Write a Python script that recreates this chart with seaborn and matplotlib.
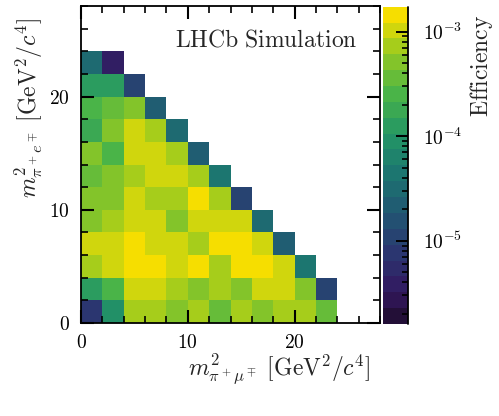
import numpy as np
import pandas as pd
import matplotlib
matplotlib.use("Agg")
import matplotlib.pyplot as plt
import seaborn as sns
from matplotlib.colors import LinearSegmentedColormap, ListedColormap, LogNorm
from matplotlib.ticker import MultipleLocator, FuncFormatter, NullFormatter, LogLocator

sns.set_style("white")
plt.rcParams["mathtext.fontset"] = "cm"
plt.rcParams["font.family"] = ["DejaVu Serif"]
plt.rcParams["axes.axisbelow"] = False

# ---- data: efficiency per 2x2 GeV^2 bin, in units of 1e-4 (rows from bottom) ----
bin_width = 2.0
n_bins = 14
eff_row00 = [0.077, 0.89, 7.2, 7.2, 5.1, 7.2, 3.6, 7.2, 5.1, 7.2, 7.2, 3.6]
eff_row01 = [1.26, 2.5, 10.2, 10.2, 7.2, 5.1, 7.2, 5.1, 10.2, 10.2, 5.1, 0.11]
eff_row02 = [7.2, 10.2, 14.5, 14.5, 10.2, 14.5, 7.2, 14.5, 14.5, 10.2, 0.44]
eff_row03 = [10.2, 10.2, 14.5, 10.2, 10.2, 7.2, 14.5, 14.5, 10.2, 0.22]
eff_row04 = [5.1, 7.2, 10.2, 10.2, 5.1, 10.2, 10.2, 10.2, 0.31]
eff_row05 = [5.1, 5.1, 10.2, 7.2, 7.2, 14.5, 7.2, 0.11]
eff_row06 = [3.6, 5.1, 7.2, 10.2, 10.2, 7.2, 0.44]
eff_row07 = [5.1, 2.5, 10.2, 10.2, 7.2, 0.22]
eff_row08 = [1.8, 5.1, 10.2, 7.2, 0.31]
eff_row09 = [2.5, 3.6, 5.1, 0.22]
eff_row10 = [1.26, 1.26, 0.11]
eff_row11 = [0.31, 0.038]
eff_scale = 1e-4
z_min = 1.6e-6
z_max = 1.73e-3
n_contours = 20
x_tick_values = [0, 10, 20]
cbar_tick_values = [1e-5, 1e-4, 1e-3]

rows = [eff_row00, eff_row01, eff_row02, eff_row03, eff_row04, eff_row05,
        eff_row06, eff_row07, eff_row08, eff_row09, eff_row10, eff_row11]
grid = np.full((n_bins, n_bins), np.nan)
for r, vals in enumerate(rows):
    grid[r, :len(vals)] = np.array(vals) * eff_scale
df = pd.DataFrame(grid)

# ROOT kViridis palette, discretised into 20 contour levels
stops = [0.0, 0.125, 0.25, 0.375, 0.5, 0.625, 0.75, 0.875, 1.0]
red = [26, 51, 43, 33, 28, 35, 74, 144, 246]
green = [9, 24, 55, 87, 118, 150, 180, 200, 222]
blue = [30, 96, 112, 114, 112, 101, 72, 35, 0]
base = LinearSegmentedColormap.from_list(
    "kViridis", [(s, (r / 255, g / 255, b / 255)) for s, r, g, b in zip(stops, red, green, blue)])
cmap = ListedColormap([base(min((i + 0.99) / n_contours, 1.0)) for i in range(n_contours)])
cmap.set_bad("white")
norm = LogNorm(vmin=z_min, vmax=z_max)

W, H = 499, 416
fig = plt.figure(figsize=(W / 100, H / 100), dpi=100)
ax = fig.add_axes([81 / W, 1 - 323 / H, (380 - 81) / W, (323 - 6) / H])
cax = fig.add_axes([382.5 / W, 1 - 324 / H, 25 / W, (324 - 6.7) / H])

sns.heatmap(df, ax=ax, cmap=cmap, norm=norm, cbar=True, cbar_ax=cax,
            xticklabels=False, yticklabels=False)
ax.set_axisbelow(False)
cax.set_axisbelow(False)

ax.set_xlim(0, n_bins)
ax.set_ylim(0, n_bins)
for s in ax.spines.values():
    s.set_visible(True)
    s.set_linewidth(1.3)
    s.set_color("black")
    s.set_zorder(5)

fmt = FuncFormatter(lambda v, p: r"$%d$" % int(round(v * bin_width)))
for axis in (ax.xaxis, ax.yaxis):
    axis.set_major_locator(MultipleLocator(x_tick_values[1] / bin_width))
    axis.set_minor_locator(MultipleLocator(1))
    axis.set_major_formatter(fmt)
    axis.set_zorder(4)
ax.tick_params(which="both", direction="in", top=True, right=True,
               bottom=True, left=True, labelsize=14, pad=8, colors="black")
ax.tick_params(which="major", length=9.5, width=1.5)
ax.tick_params(which="minor", length=4.7, width=1.2)

ax.set_xlabel(r"$m^2_{\pi^+\mu^\mp}\ [\mathrm{GeV}^2/c^4]$", fontsize=17, loc="right")
ax.xaxis.set_label_coords(0.967, -0.092)
ax.set_ylabel(r"$m^2_{\pi^+e^\mp}\ [\mathrm{GeV}^2/c^4]$", fontsize=17, loc="top")
ax.yaxis.set_label_coords(-0.12, 0.962)

ax.text(0.923, 0.871, r"$\mathrm{LHCb\ Simulation}$", transform=ax.transAxes,
        ha="right", va="baseline", fontsize=17)

# colorbar styling
cbar = ax.collections[0].colorbar
cbar.outline.set_visible(False)
cax.yaxis.set_major_locator(LogLocator(base=10))
cax.yaxis.set_minor_locator(LogLocator(base=10, subs=np.arange(2, 10)))
cax.yaxis.set_major_formatter(FuncFormatter(lambda v, p: r"$10^{%d}$" % int(round(np.log10(v)))))
cax.yaxis.set_minor_formatter(NullFormatter())
cax.yaxis.set_ticks_position("right")
cax.yaxis.set_zorder(4)
cax.tick_params(which="both", direction="in", right=True, left=False,
                labelsize=14, pad=11, colors="black")
cax.tick_params(which="major", length=9, width=1.4)
cax.tick_params(which="minor", length=4.5, width=1.2)
cax.plot([1, 1], [0, 1], transform=cax.transAxes, color="black", lw=1.3,
         clip_on=False, zorder=6)
cax.set_ylabel(r"$\mathrm{Efficiency}$", fontsize=17, loc="top", rotation=90)
cax.yaxis.set_label_position("right")
cax.yaxis.set_label_coords(3.42, 0.974)

fig.savefig("out.png", dpi=100)
